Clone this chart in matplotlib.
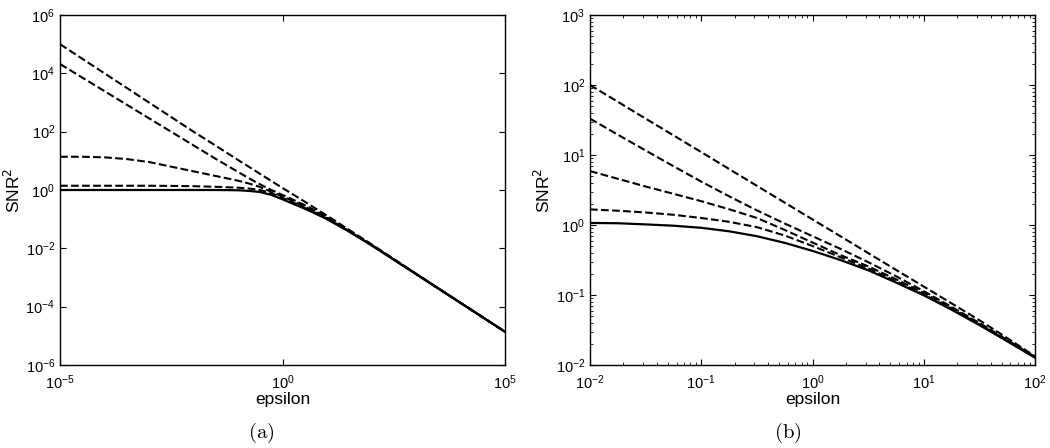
import matplotlib
matplotlib.use("Agg")
import matplotlib.pyplot as plt
from matplotlib.ticker import LogLocator, NullLocator

plt.rcParams['font.family'] = ['Liberation Sans', 'DejaVu Sans']

# panel (a): values
eps_a = [1e-5, 3.16e-5, 1e-4, 3.16e-4, 1e-3, 3.16e-3, 1e-2, 3.16e-2, 0.1, 0.178, 0.316, 0.562,
         1, 1.78, 3.16, 5.62, 10, 31.6, 100, 1e3, 1e4, 1e5]
solid_a = [1.0, 1.0, 1.0, 1.0, 1.0, 1.0, 1.0, 1.0, 0.98, 0.93, 0.85, 0.68,
           0.48, 0.33, 0.229, 0.153, 0.1, 0.0372, 0.0127, 1.32e-3, 1.35e-4, 1.38e-5]
dash1_a = [1e5, 3.16e4, 1e4, 3160, 1000, 316, 100, 33.1, 10.7, 6.17, 3.55, 2.04,
           1.17, 0.684, 0.398, 0.229, 0.132, 0.0427, 0.0138, 1.35e-3, 1.36e-4, 1.38e-5]
dash2_a = [2.09e4, 7160, 2450, 841, 288, 98.9, 33.9, 11.7, 4.17, 2.51, 1.55, 1.0,
           0.676, 0.457, 0.302, 0.191, 0.117, 0.0398, 0.0132, 1.33e-3, 1.35e-4, 1.38e-5]
dash3_a = [13.8, 13.8, 13.2, 11.5, 9.1, 6.3, 4.37, 3.02, 2.09, 1.66, 1.26, 0.871,
           0.603, 0.407, 0.269, 0.174, 0.110, 0.0385, 0.0129, 1.33e-3, 1.35e-4, 1.38e-5]
dash4_a = [1.4, 1.4, 1.4, 1.4, 1.4, 1.38, 1.35, 1.29, 1.2, 1.12, 1.0, 0.776,
           0.537, 0.367, 0.245, 0.162, 0.105, 0.038, 0.0129, 1.32e-3, 1.35e-4, 1.38e-5]

# panel (b)
eps_b = [0.01, 0.0178, 0.0316, 0.0562, 0.1, 0.178, 0.316, 0.562, 1,
         1.78, 3.16, 5.62, 10, 17.8, 31.6, 56.2, 100]
solid_b = [1.07, 1.06, 1.02, 0.977, 0.912, 0.813, 0.692, 0.556, 0.427,
           0.316, 0.226, 0.151, 0.0989, 0.0617, 0.0372, 0.0219, 0.0127]
dash1_b = [100, 57.5, 33.1, 19.1, 11.0, 6.31, 3.63, 2.09, 1.20,
           0.692, 0.398, 0.229, 0.132, 0.0759, 0.0437, 0.0243, 0.0133]
dash2_b = [33.1, 19.5, 11.6, 6.92, 4.17, 2.57, 1.62, 1.05, 0.692,
           0.457, 0.295, 0.186, 0.1135, 0.0676, 0.0398, 0.0229, 0.0130]
dash3_b = [5.89, 4.57, 3.55, 2.79, 2.19, 1.68, 1.26, 0.851, 0.562,
           0.372, 0.257, 0.168, 0.107, 0.0653, 0.0389, 0.0224, 0.0129]
dash4_b = [1.67, 1.60, 1.51, 1.40, 1.26, 1.11, 0.933, 0.708, 0.501,
           0.347, 0.240, 0.158, 0.102, 0.0631, 0.0380, 0.0221, 0.0128]

fig = plt.figure(figsize=(10.5, 4.48), dpi=100)
ax_a = fig.add_axes([60/1050, 83/448, 445/1050, 350/448])
ax_b = fig.add_axes([590/1050, 83/448, 445/1050, 350/448])

for ax, eps, solid, dashes in [
    (ax_a, eps_a, solid_a, [dash1_a, dash2_a, dash3_a, dash4_a]),
    (ax_b, eps_b, solid_b, [dash1_b, dash2_b, dash3_b, dash4_b]),
]:
    for d in dashes:
        ax.loglog(eps, d, 'k--', lw=1.5)
    ax.loglog(eps, solid, 'k-', lw=1.6)
    ax.set_xlabel('epsilon', fontsize=12.5, labelpad=0)
    ax.set_ylabel('SNR$^2$', fontsize=12.5, labelpad=2)
    ax.tick_params(which='both', direction='in', top=True, right=True, labelsize=10.5)
    ax.tick_params(axis='x', which='major', pad=6)
    ax.tick_params(which='major', length=4, width=0.8)
    ax.tick_params(which='minor', length=2, width=0.6)
    for s in ax.spines.values():
        s.set_linewidth(1.0)

ax_a.set_xlim(1e-5, 1e5)
ax_a.set_ylim(1e-6, 1e6)
ax_a.set_xticks([1e-5, 1e0, 1e5])
ax_a.set_yticks([1e-6, 1e-4, 1e-2, 1e0, 1e2, 1e4, 1e6])
ax_a.xaxis.set_minor_locator(NullLocator())
ax_a.yaxis.set_minor_locator(NullLocator())

ax_b.set_xlim(1e-2, 1e2)
ax_b.set_ylim(1e-2, 1e3)
ax_b.xaxis.set_major_locator(LogLocator(base=10))
ax_b.yaxis.set_major_locator(LogLocator(base=10))
ax_b.xaxis.set_minor_locator(LogLocator(base=10, subs=range(2, 10)))
ax_b.yaxis.set_minor_locator(LogLocator(base=10, subs=range(2, 10)))

fig.text(261/1050, 3/448, r'$\mathrm{(a)}$', fontsize=15, ha='center', va='bottom', math_fontfamily='cm')
fig.text(788/1050, 3/448, r'$\mathrm{(b)}$', fontsize=15, ha='center', va='bottom', math_fontfamily='cm')

fig.savefig('out.png', dpi=100)
